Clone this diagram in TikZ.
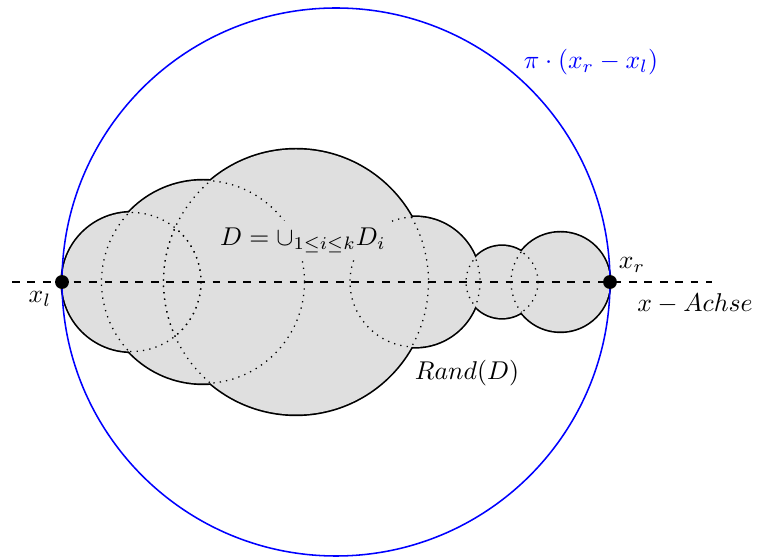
\documentclass[tikz,border=0pt]{standalone}
\begin{document}
\begin{tikzpicture}[x=0.389pt,y=-0.389pt,
  outline/.style={line width=1.3pt,black},
  diskfill/.style={fill=gray!25},
  inner/.style={dotted,line width=0.5pt},
  axis/.style={dashed,line width=0.6pt},
  hull/.style={blue,line width=0.6pt},
  endpt/.style={circle,fill=black,inner sep=0pt,minimum size=5.4pt},
  lab/.style={inner sep=1pt}]
\useasboundingbox (0,0) rectangle (757,559);
\def\disks{131.5/69.5,203/101.5,296/132.5,415/65,502/36,560.5/49.5}
% outline (double width, inner half covered by fill)
\foreach \cx/\r in \disks { \draw[outline] (\cx,282) circle[radius=\r]; }
\foreach \cx/\r in \disks { \fill[diskfill] (\cx,282) circle[radius=\r]; }
% dotted inner arcs
\foreach \cx/\r in \disks {
  \foreach \dx/\dr in \disks {
    \ifdim \cx pt=\dx pt\relax\else
      \begin{scope}
        \clip (\dx,282) circle[radius=\dr];
        \draw[inner] (\cx,282) circle[radius=\r];
      \end{scope}
    \fi
  }
}
% enclosing circle
\draw[hull] (336,282) circle[radius=274];
% axis
\coordinate (axL) at (12,282);
\coordinate (axR) at (712,282);
\draw[axis] (axL) -- (axR);
\node[endpt] (xl) at (62,282) {};
\node[endpt] (xr) at (610,282) {};
% labels
\node[lab] (xllab) at (40,299) {$x_l$};
\node[lab] (xrlab) at (632,265) {$x_r$};
\node[lab] (achse) at (695,304) {$x-Achse$};
\node[lab,fill=gray!25,inner sep=2.5pt] (dlab) at (303,240) {$D=\cup_{1\leq i\leq k}D_i$};
\node[lab] (rand) at (467,373) {$Rand(D)$};
\node[lab,blue] (pilab) at (591,62) {$\pi\cdot(x_r-x_l)$};
\end{tikzpicture}
\end{document}
